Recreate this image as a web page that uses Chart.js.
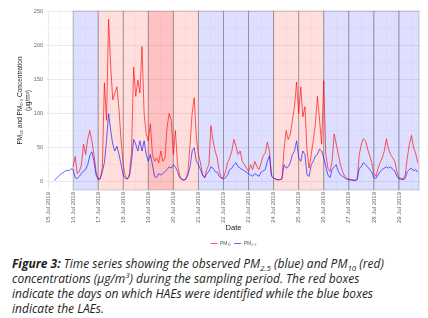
<!DOCTYPE html>
<html>
<head>
<meta charset="utf-8">
<script src="https://cdn.jsdelivr.net/npm/chart.js@4.4.1/dist/chart.umd.min.js"></script>
<style>
  body { margin: 0; background: #fff; width: 428px; height: 318px; overflow: hidden; }
  #wrap { position: relative; width: 428px; height: 256px; }
  #legenda {
    margin: 0 0 0 12px;
    font-family: "Open Sans", sans-serif;
    font-style: italic;
    font-size: 12px;
    line-height: 15px;
    color: #231f20;
    white-space: nowrap;
  }
  #legenda sub, #legenda sup { font-size: 8px; line-height: 0; }
</style>
</head>
<body>
<div id="wrap"><canvas id="plotsPM"></canvas></div>
<div id="legenda">
  <b>Figure 3:</b> Time series showing the observed PM<sub>2.5</sub> (blue) and PM<sub>10</sub> (red)<br>
  concentrations (µg/m<sup>3</sup>) during the sampling period. The red boxes<br>
  indicate the days on which HAEs were identified while the blue boxes<br>
  indicate the LAEs.
</div>
<script>
// Serie começa em 15 Jul 2019 06:00, um ponto a cada 2 horas (x em dias de julho)
const startDay = 15.25;
const stepDay = 2 / 24;

// PM10 (vermelho) - sem dados no dia 15
const pm10 = [
  null, null, null, null, null, null, null, null, null,
  22, 37, 12, 15, 25, 55, 40, 62, 75, 60, 40, 15,        // 16
  3, 4, 20, 145, 90, 238, 170, 120, 130, 139, 105, 60,   // 17
  25, 8, 4, 12, 45, 168, 125, 149, 130, 198, 100, 70,    // 18
  60, 85, 40, 30, 35, 28, 45, 30, 35, 80, 100, 90,       // 19
  40, 75, 25, 10, 3, 2, 4, 15, 55, 100, 123, 65,         // 20
  40, 28, 10, 6, 18, 25, 82, 60, 45, 35, 15, 6,          // 21
  6, 15, 28, 35, 45, 62, 52, 40, 45, 30, 25, 20,         // 22
  15, 25, 18, 30, 22, 18, 28, 38, 42, 58, 45, 10,        // 23
  6, 4, 3, 3, 5, 48, 75, 62, 70, 90, 110, 146,           // 24
  100, 139, 95, 110, 45, 20, 40, 60, 85, 125, 90, 55,    // 25
  148, 40, 20, 15, 30, 70, 55, 40, 25, 15, 8, 5,         // 26
  4, 3, 3, 2, 4, 40, 55, 63, 60, 48, 38, 28,             // 27
  12, 8, 20, 28, 35, 45, 63, 48, 40, 35, 30, 15,         // 28
  6, 5, 4, 10, 35, 55, 68, 50, 42, 28                    // 29
];

// PM2.5 (azul)
const pm25 = [
  2, 5, 8, 11, 13, 15, 17, 16, 19,                       // 15
  18, 6, 5, 8, 12, 16, 18, 25, 38, 44, 30, 10,           // 16
  4, 5, 15, 28, 60, 100, 75, 55, 45, 52, 40, 25,         // 17
  10, 5, 4, 8, 30, 62, 55, 45, 60, 45, 60, 40,           // 18
  30, 40, 25, 8, 6, 12, 10, 12, 15, 18, 22, 20,          // 19
  25, 22, 15, 6, 4, 3, 4, 10, 22, 45, 50, 30,            // 20
  25, 18, 10, 6, 12, 15, 22, 20, 15, 14, 8, 5,           // 21
  4, 6, 10, 18, 20, 25, 28, 22, 20, 18, 16, 14,          // 22
  12, 10, 8, 12, 10, 8, 14, 16, 18, 30, 38, 8,           // 23
  5, 4, 3, 3, 4, 25, 20, 22, 28, 40, 45, 60,             // 24
  35, 30, 45, 40, 10, 8, 25, 30, 38, 40, 48, 45,         // 25
  35, 22, 10, 6, 18, 22, 25, 15, 10, 8, 6, 4,            // 26
  3, 3, 2, 2, 3, 20, 22, 28, 25, 22, 18, 14,             // 27
  6, 5, 10, 15, 18, 20, 22, 20, 22, 18, 16, 8,           // 28
  4, 4, 3, 5, 15, 18, 20, 16, 18, 14                     // 29
];

// Rotulos do eixo x (um por dia)
const dayTicks = [15, 16, 17, 18, 19, 20, 21, 22, 23, 24, 25, 26, 27, 28, 29];
const dayLabels = ['15 Jul 2019', '16 Jul 2019', '17 Jul 2019', '18 Jul 2019', '19 Jul 2019',
  '20 Jul 2019', '21 Jul 2019', '22 Jul 2019', '23 Jul 2019', '24 Jul 2019', '25 Jul 2019',
  '26 Jul 2019', '27 Jul 2019', '28 Jul 2019', '29 Jul 2019'];

// Caixas: HAE (vermelho) e LAE (azul); o dia 19 aparece duas vezes (caixa mais escura)
const boxStart = [16, 17, 18, 19, 19, 20, 21, 22, 23, 24, 25, 26, 27, 28, 29];
const boxEnd   = [17, 18, 19, 20, 20, 21, 22, 23, 24, 25, 26, 27, 28, 29, 29.8];
const boxType  = ['LAE', 'HAE', 'HAE', 'HAE', 'HAE', 'HAE', 'LAE', 'LAE', 'LAE', 'HAE', 'HAE',
  'LAE', 'LAE', 'LAE', 'LAE'];

function toPoints(values) {
  return values.map((v, i) => ({ x: startDay + i * stepDay, y: v }));
}

// Desenha as caixas por cima da grade e por baixo das linhas
const boxesPlugin = {
  id: 'boxes',
  beforeDatasetsDraw(chart) {
    const { ctx, chartArea, scales } = chart;
    const h = chartArea.bottom - chartArea.top;
    ctx.save();
    for (let i = 0; i < boxStart.length; i++) {
      const x0 = scales.x.getPixelForValue(boxStart[i]);
      const x1 = scales.x.getPixelForValue(boxEnd[i]);
      ctx.fillStyle = boxType[i] === 'HAE' ? 'rgba(255,0,0,0.13)' : 'rgba(0,0,255,0.13)';
      ctx.fillRect(x0, chartArea.top, x1 - x0, h);
      // caixa repetida: so preenche
      if (i > 0 && boxStart[i] === boxStart[i - 1]) continue;
      ctx.strokeStyle = 'rgba(50,50,50,0.22)';
      ctx.lineWidth = 1;
      ctx.strokeRect(x0, chartArea.top, x1 - x0, h);
    }
    ctx.restore();
  }
};

Chart.defaults.font.family = "'Liberation Sans', Arial, sans-serif";

const plotsPM = document.getElementById('plotsPM');
new Chart(plotsPM, {
  type: 'line',
  data: {
    datasets: [{
      label: 'PM₁₀',
      data: toPoints(pm10),
      borderColor: 'rgba(255,0,0,0.8)',
      borderWidth: 0.8,
      pointRadius: 0,
      tension: 0,
      order: 1
    }, {
      label: 'PM₂.₅',
      data: toPoints(pm25),
      borderColor: 'rgba(25,25,255,0.85)',
      borderWidth: 0.8,
      pointRadius: 0,
      tension: 0,
      order: 0
    }]
  },
  options: {
    responsive: true,
    maintainAspectRatio: false,
    animation: false,
    layout: { padding: { top: 11, right: 7, bottom: 0, left: 0 } },
    plugins: {
      tooltip: { enabled: false },
      legend: {
        position: 'bottom',
        fullSize: false,
        labels: {
          usePointStyle: true,
          pointStyle: 'line',
          pointStyleWidth: 7,
          boxHeight: 5,
          padding: 3,
          color: '#555',
          font: { size: 5 },
          sort: (a, b) => a.datasetIndex - b.datasetIndex
        }
      }
    },
    scales: {
      x: {
        type: 'linear',
        min: 14.92,
        max: 29.88,
        afterFit: (scale) => { scale.height = 48; },
        border: { display: false },
        grid: {
          drawTicks: false,
          color: (c) => Number.isInteger(c.tick.value) ? '#e6e6e6' : '#f0f0f0',
          lineWidth: (c) => Number.isInteger(c.tick.value) ? 0.8 : 0.5
        },
        ticks: {
          stepSize: 0.5,
          includeBounds: false,
          autoSkip: false,
          minRotation: 90,
          maxRotation: 90,
          padding: 2,
          color: '#666',
          font: { size: 6 },
          callback: (v) => {
            const k = dayTicks.indexOf(v);
            return k >= 0 ? dayLabels[k] : '';
          }
        },
        title: {
          display: true,
          text: 'Date',
          color: '#222',
          font: { size: 7.6 },
          padding: { top: 0, bottom: 5.5 }
        }
      },
      y: {
        min: -12,
        max: 250,
        afterFit: (scale) => { scale.width = 46; },
        border: { display: false },
        grid: {
          drawTicks: false,
          color: (c) => c.tick.value % 50 === 0 ? '#e6e6e6' : '#f0f0f0',
          lineWidth: (c) => c.tick.value % 50 === 0 ? 0.8 : 0.5
        },
        ticks: {
          stepSize: 25,
          includeBounds: false,
          autoSkip: false,
          padding: 3,
          color: '#666',
          font: { size: 5.5 },
          callback: (v) => v % 50 === 0 ? v : ''
        },
        title: {
          display: true,
          text: ['PM₁₀ and PM₂.₅ Concentration', '(μg/m³)'],
          color: '#222',
          font: { size: 6.5, lineHeight: 1.3 },
          padding: { top: 16, bottom: 0 }
        }
      }
    }
  },
  plugins: [boxesPlugin]
});
</script>
</body>
</html>
